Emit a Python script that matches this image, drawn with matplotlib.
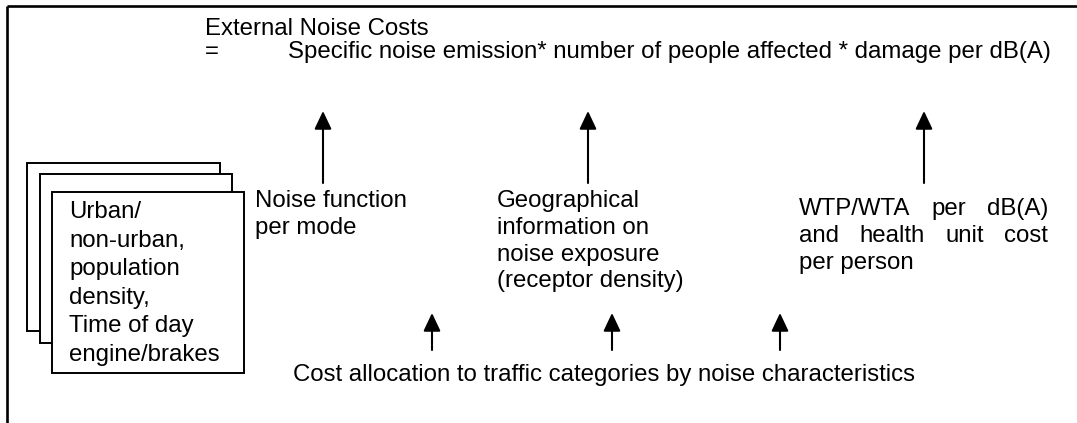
import matplotlib
matplotlib.use("Agg")
import matplotlib.pyplot as plt
from matplotlib.patches import Rectangle

plt.rcParams["font.family"] = ["Liberation Sans", "DejaVu Sans"]

# texts of the diagram
title_line = "External Noise Costs"
formula_line = "Specific noise emission* number of people affected * damage per dB(A)"
noise_label = ["Noise function", "per mode"]
geo_label = ["Geographical", "information on", "noise exposure", "(receptor density)"]
wtp_label = ["WTP/WTA per dB(A)", "and health unit cost", "per person"]
box_label = ["Urban/", "non-urban,", "population", "density,", "Time of day", "engine/brakes"]
alloc_label = "Cost allocation to traffic categories by noise characteristics"

# arrow x positions (upper row points to the formula, lower row to the inputs)
upper_arrows = [323, 588, 924]
lower_arrows = [432, 612, 780]

FS = 17.3
LH = 26.8  # line height in px

fig = plt.figure(figsize=(10.77, 4.23), dpi=100)
ax = fig.add_axes([0, 0, 1, 1])
ax.set_xlim(0, 1077)
ax.set_ylim(423, 0)
ax.axis("off")

# outer frame (top and left only visible)
ax.plot([7, 1077], [6, 6], color="black", lw=1.9, solid_capstyle="butt")
ax.plot([7, 7], [6, 423], color="black", lw=1.9, solid_capstyle="butt")

# header
ax.text(205, 35, title_line, fontsize=FS, va="baseline")
ax.text(205, 58, "=", fontsize=FS, va="baseline")
ax.text(288, 58, formula_line, fontsize=FS, va="baseline")


def lines_at(x, y0, lines, step=LH):
    for i, s in enumerate(lines):
        ax.text(x, y0 + i * step, s, fontsize=FS, va="baseline")


lines_at(255, 207, noise_label)
lines_at(497, 207, geo_label)

# justified block on the right
renderer = fig.canvas.get_renderer()
left, right = 799, 1048
for i, s in enumerate(wtp_label):
    y = 215 + i * LH
    words = s.split()
    if i == len(wtp_label) - 1:
        ax.text(left, y, s, fontsize=FS, va="baseline")
        continue
    widths = []
    for w in words:
        t = ax.text(0, 0, w, fontsize=FS)
        widths.append(t.get_window_extent(renderer).width)
        t.remove()
    gap = (right - left - sum(widths)) / (len(words) - 1)
    x = left
    for w, wd in zip(words, widths):
        ax.text(x, y, w, fontsize=FS, va="baseline")
        x += wd + gap

style = "-|>,head_length=0.55,head_width=0.26"

# upper arrows
for x in upper_arrows:
    ax.annotate("", xy=(x, 111), xytext=(x, 183),
                arrowprops=dict(arrowstyle=style, mutation_scale=20, lw=1.5,
                                color="black", shrinkA=0, shrinkB=0))

# lower arrows
for x in lower_arrows:
    ax.annotate("", xy=(x, 313), xytext=(x, 350),
                arrowprops=dict(arrowstyle=style, mutation_scale=20, lw=1.5,
                                color="black", shrinkA=0, shrinkB=0))

ax.text(293, 381, alloc_label, fontsize=FS, va="baseline")

# stacked boxes
boxes = [(27, 163, 220, 331), (40, 174, 232, 343), (52, 192, 244, 373)]
for x0, y0, x1, y1 in boxes:
    ax.add_patch(Rectangle((x0, y0), x1 - x0, y1 - y0, facecolor="white",
                           edgecolor="black", lw=1.4, zorder=2))

# text in the front box is cut off at the bottom, as in the original
clip = Rectangle((52, 192), 192, 169.5, transform=ax.transData, visible=False)
ax.add_patch(clip)
for i, s in enumerate(box_label):
    t = ax.text(69, 218 + i * 28.6, s, fontsize=FS, va="baseline", zorder=3)
    t.set_clip_path(clip)

fig.savefig("out.png", dpi=100)
